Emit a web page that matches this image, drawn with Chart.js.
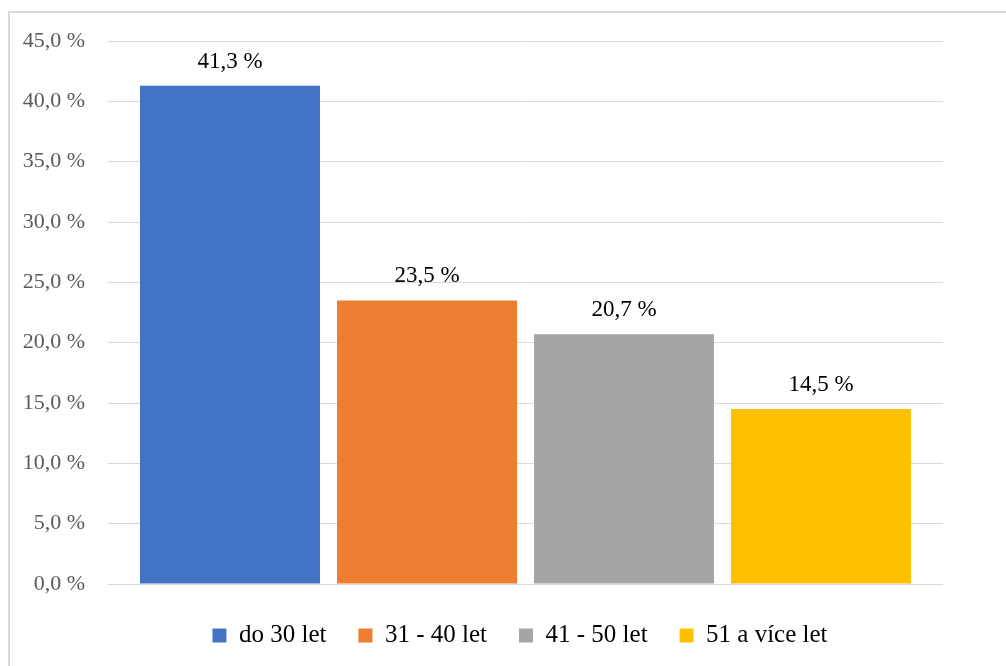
<!DOCTYPE html>
<html>
<head>
<meta charset="utf-8">
<script src="https://cdn.jsdelivr.net/npm/chart.js@4/dist/chart.umd.min.js"></script>
<style>
  html, body { margin: 0; padding: 0; background: #fff; overflow: hidden; }
  #frame { position: absolute; left: 8px; top: 11px; width: 1100px; height: 800px;
           border-left: 2px solid #d9d9d9; border-top: 2px solid #d9d9d9; }
  #chart { position: absolute; left: 0; top: 0; }
</style>
</head>
<body>
<div id="frame"></div>
<canvas id="chart" width="1040" height="666"></canvas>
<script>
'use strict';
// věkové skupiny a podíly v %
const CATEGORIES = ['do 30 let', '31 - 40 let', '41 - 50 let', '51 a více let'];
const VALUES = [41.3, 23.5, 20.7, 14.5];
const COLORS = ['#4472C4', '#ED7D31', '#A5A5A5', '#FFC000'];
const Y_MAX = 45;
const Y_STEP = 5;

const FONT = "'Liberation Serif', 'Times New Roman', serif";
const fmt = v => v.toFixed(1).replace('.', ',') + ' %';

// popisky hodnot nad sloupci
const valueLabels = {
    id: 'valueLabels',
    afterDatasetsDraw(chart) {
        const ctx = chart.ctx;
        ctx.save();
        ctx.font = '23px ' + FONT;
        ctx.fillStyle = '#000';
        ctx.textAlign = 'center';
        ctx.textBaseline = 'middle';
        chart.data.datasets.forEach((ds, i) => {
            const bar = chart.getDatasetMeta(i).data[0];
            ctx.fillText(fmt(ds.data[0]), bar.x, bar.y - 24);
        });
        ctx.restore();
    },
};

new Chart(document.getElementById('chart'), {
    type: 'bar',
    data: {
        labels: [''],
        datasets: CATEGORIES.map((name, i) => ({
            label: name,
            data: [VALUES[i]],
            backgroundColor: COLORS[i],
            categoryPercentage: 0.9437,
            barPercentage: 0.9137,
        })),
    },
    options: {
        responsive: false,
        animation: false,
        layout: { padding: { left: 0, right: 0, top: 41, bottom: 8 } },
        plugins: {
            tooltip: { enabled: false },
            legend: {
                position: 'bottom',
                labels: {
                    boxWidth: 14, boxHeight: 14, padding: 32,
                    color: '#000',
                    font: { family: FONT, size: 25 },
                },
            },
        },
        scales: {
            x: {
                afterFit: s => { s.height = 7; },
                border: { display: false },
                grid: { display: false },
                ticks: { display: false },
            },
            y: {
                min: 0, max: Y_MAX,
                afterFit: s => { s.width = 108; },
                border: { display: false },
                grid: { color: '#d9d9d9', lineWidth: 1, drawTicks: false },
                ticks: {
                    stepSize: Y_STEP, padding: 23,
                    color: '#595959',
                    font: { family: FONT, size: 22 },
                    callback: v => fmt(v),
                },
            },
            // prázdná osa vpravo, jen kvůli umístění plochy a legendy
            y2: {
                type: 'linear', position: 'right',
                min: 0, max: Y_MAX,
                afterFit: s => { s.width = 97; },
                border: { display: false },
                grid: { display: false },
                ticks: { display: false },
            },
        },
    },
    plugins: [valueLabels],
});
</script>
</body>
</html>
